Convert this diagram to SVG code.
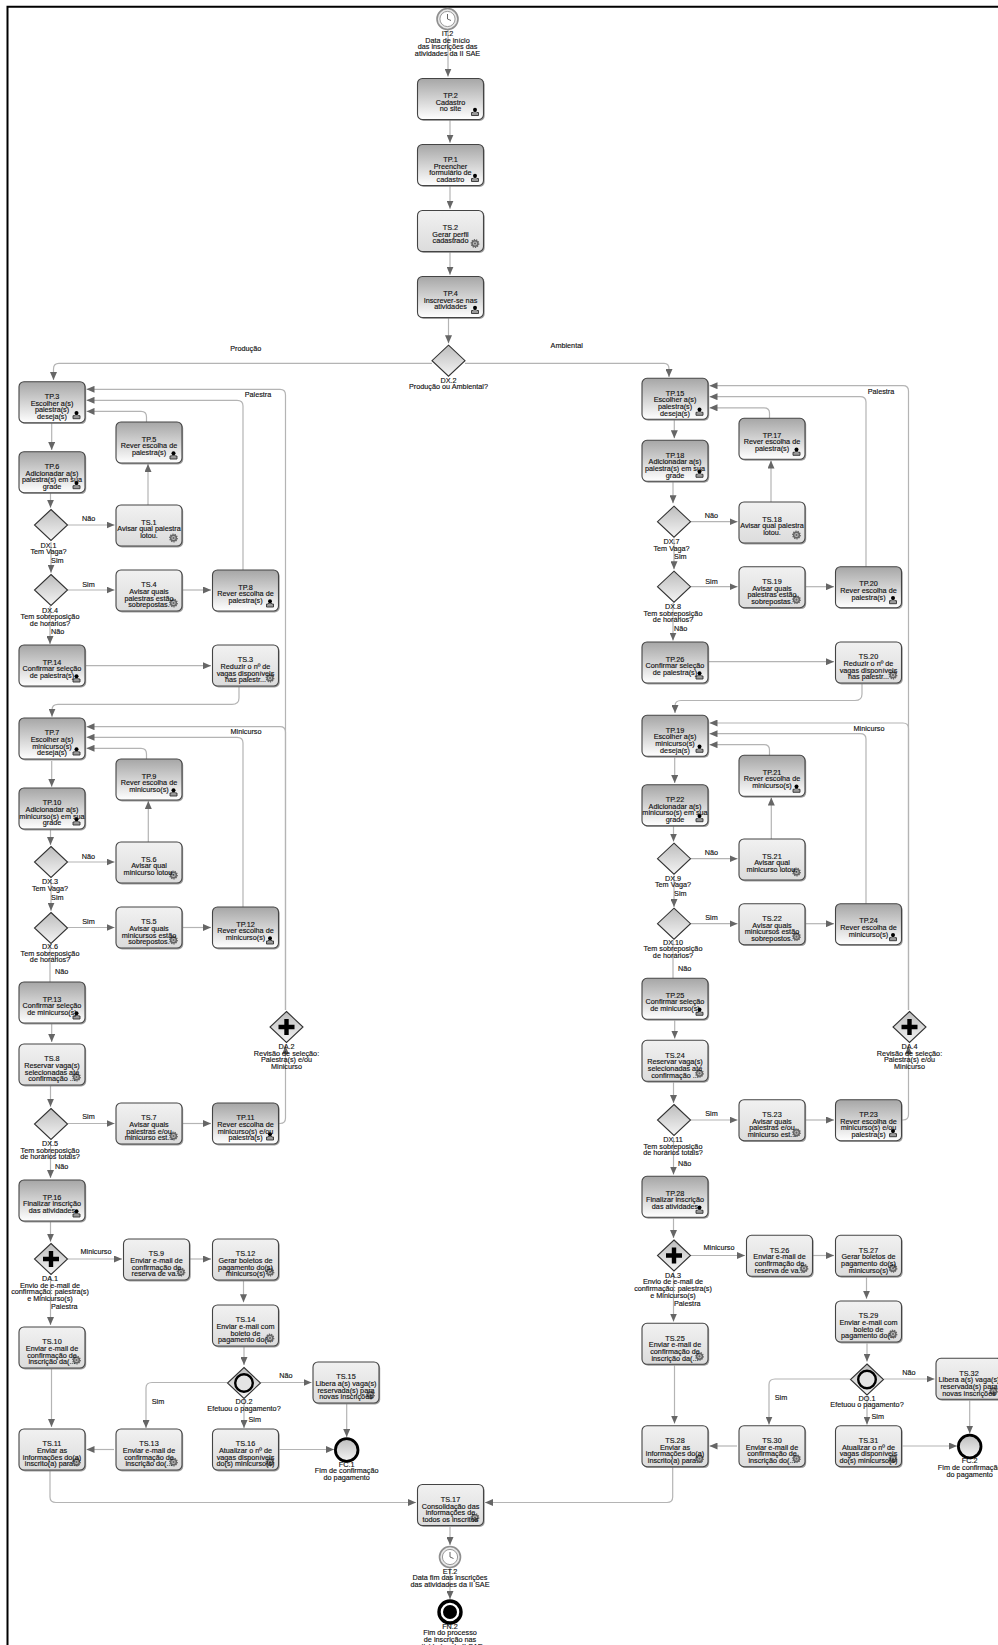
<svg xmlns="http://www.w3.org/2000/svg" xmlns:xlink="http://www.w3.org/1999/xlink" width="998" height="1645" viewBox="0 0 998 1645">
<style>
text{font-family:"Liberation Sans",Arial,sans-serif;font-size:7.25px;fill:#111;stroke:#111;stroke-width:.14;text-anchor:middle}
.c{fill:none;stroke:#b4b4b4;stroke-width:1.2}
.a{marker-end:url(#ar)}
.b{fill:url(#gP);stroke:#444;stroke-width:1.1}
.s{fill:url(#gS);stroke:#444;stroke-width:1.1}
.sh{fill:#777;opacity:.7}
</style>
<defs>
<linearGradient id="gP" x1="0" y1="0" x2="0" y2="1"><stop offset="0" stop-color="#a6a6a6"/><stop offset="1" stop-color="#fff"/></linearGradient>
<linearGradient id="gS" x1="0" y1="0" x2="0" y2="1"><stop offset="0" stop-color="#f1f1f1"/><stop offset="1" stop-color="#dcdcdc"/></linearGradient>
<linearGradient id="gG" x1="0" y1="0" x2="0" y2="1"><stop offset="0" stop-color="#bdbdbd"/><stop offset="1" stop-color="#f4f4f4"/></linearGradient>
<marker id="ar" markerUnits="userSpaceOnUse" markerWidth="8" markerHeight="7" refX="8" refY="3.5" orient="auto"><path d="M0 0L8 3.5L0 7z" fill="#666"/></marker>
<g id="ui"><path d="M-3.5 4V1H-2L-1 0H1L2 1H3.5V4z" fill="#999" stroke="#333" stroke-width=".9"/><circle cy="-1.8" r="2" fill="#000"/></g>
<g id="gi"><circle r="3.6" fill="#666" stroke="#666" stroke-width="1.6" stroke-dasharray="1.2 1"/><circle r="2.1" fill="#bbb"/><circle r="1.1" fill="#666"/></g>
<g id="P"><rect class="sh" x="1.2" y="1.4" width="66" height="41" rx="5"/><rect class="b" width="66" height="41" rx="5"/><use href="#ui" x="57.5" y="33"/></g>
<g id="S"><rect class="sh" x="1.2" y="1.4" width="66" height="41" rx="5"/><rect class="s" width="66" height="41" rx="5"/><use href="#gi" x="57.5" y="33"/></g>
<path id="gw" d="M0-15.5L16.5 0L0 15.5L-16.5 0z" fill="url(#gG)" stroke="#333" stroke-width="1.1"/>
<g id="ga"><use href="#gw"/><path d="M-8-2.2H-2.2V-8H2.2V-2.2H8V2.2H2.2V8H-2.2V2.2H-8z" fill="#000"/></g>
<g id="go"><use href="#gw"/><circle r="8.8" fill="#e4e4e4" stroke="#000" stroke-width="2.4"/></g>
<g id="ck"><circle r="10.5" fill="#e8e8e8" stroke="#8f8f8f" stroke-width="1.6"/><circle r="7.6" fill="#fff" stroke="#999" stroke-width="1"/><path d="M0-5V0L3.5 1.5" fill="none" stroke="#555" stroke-width=".9"/></g>
</defs>
<path d="M7.5 1645V6.8H998" fill="none" stroke="#000" stroke-width="2"/>
<g id="connectors">
<path class="c a" d="M448 30V76.5"/>
<path class="c a" d="M450 120V142.7"/>
<path class="c a" d="M450 186V208.7"/>
<path class="c a" d="M450 252V274.7"/>
<path class="c a" d="M448.5 318V343.3"/>
<path class="c a" d="M432 363.4H59Q53.5 363.4 53.5 369V380"/>
<path class="c a" d="M465 363.4H664Q669 363.4 669 369V377"/>
<path class="c a" d="M51.7 423V450"/>
<path class="c a" d="M50.5 493V507.7"/>
<path class="c a" d="M67.5 525H114.5"/>
<path class="c a" d="M148 505V464"/>
<path class="c a" d="M146.5 422V417Q146.5 411.4 141 411.4H86.5"/>
<path class="c a" d="M243 570V406Q243 400.3 237 400.3H86.5"/>
<path class="c a" d="M285.5 1010V395Q285.5 389.3 280 389.3H86.5"/>
<path class="c a" d="M51 542V572.7"/>
<path class="c a" d="M67.5 590H114.5"/>
<path class="c a" d="M183 590H211"/>
<path class="c a" d="M50 606V644"/>
<path class="c a" d="M86 665.7H211"/>
<path class="c a" d="M239 687V698Q239 704.4 232 704.4H58Q52 704.4 52 710V716.7"/>
<path class="c a" d="M51.7 761V786.7"/>
<path class="c a" d="M50.5 830V845"/>
<path class="c a" d="M67.5 862H114.5"/>
<path class="c a" d="M148.3 842V801"/>
<path class="c a" d="M146.5 759V754Q146.5 748.3 141 748.3H86.5"/>
<path class="c a" d="M243 907V743Q243 737.3 237 737.3H86.5"/>
<path class="c a" d="M285.5 1010V732Q285.5 726.7 280 726.7H86.5"/>
<path class="c a" d="M51 879V910.7"/>
<path class="c a" d="M67.5 927.5H114.5"/>
<path class="c a" d="M183 927.5H211"/>
<path class="c" d="M50 944V982"/>
<path class="c a" d="M51.7 1024V1042"/>
<path class="c a" d="M50.5 1086V1106.7"/>
<path class="c a" d="M67.5 1123.5H114.5"/>
<path class="c a" d="M183 1123.5H211"/>
<path class="c a" d="M279 1123.5H280Q285.5 1123.5 285.5 1118V1046"/>
<path class="c a" d="M50.5 1141V1178"/>
<path class="c a" d="M50.5 1222V1241.7"/>
<path class="c a" d="M68 1259H122"/>
<path class="c a" d="M190 1259H211"/>
<path class="c a" d="M243.5 1281V1302.3"/>
<path class="c a" d="M244 1347V1365"/>
<path class="c a" d="M261 1382.5H311.5"/>
<path class="c a" d="M346.7 1404V1437"/>
<path class="c a" d="M227 1382.5H152Q146 1382.5 146 1388V1428"/>
<path class="c a" d="M244 1400V1428"/>
<path class="c a" d="M279.5 1449.5H334"/>
<path class="c a" d="M114 1449.5H86.5"/>
<path class="c a" d="M50.5 1276V1325"/>
<path class="c a" d="M51.5 1369V1427"/>
<path class="c a" d="M50 1471V1497Q50 1502.5 56 1502.5H416"/>
<path class="c a" d="M450 1527V1545"/>
<path class="c a" d="M450 1568V1599"/>
<path class="c a" d="M672.7 1467V1497Q672.7 1502.5 667 1502.5H485"/>
<path class="c a" d="M674.3 420V438.3"/>
<path class="c a" d="M673 482V503.3"/>
<path class="c a" d="M690.5 521.7H737.5"/>
<path class="c a" d="M771 502V460.5"/>
<path class="c a" d="M769.5 418.3V413Q769.5 407.8 764 407.8H709.5"/>
<path class="c a" d="M866 566.7V402Q866 396.7 860 396.7H709.5"/>
<path class="c a" d="M908.5 1010V391Q908.5 385.7 903 385.7H709.5"/>
<path class="c a" d="M674 538.5V569.3"/>
<path class="c a" d="M690.5 586.7H737.5"/>
<path class="c a" d="M806 586.7H834"/>
<path class="c a" d="M673 603V640.5"/>
<path class="c a" d="M709 661.7H834"/>
<path class="c a" d="M862 684V694Q862 700.5 855 700.5H681Q675 700.5 675 706V713"/>
<path class="c a" d="M674.7 757.5V783"/>
<path class="c a" d="M673.5 826V841.5"/>
<path class="c a" d="M690.5 858.7H737.5"/>
<path class="c a" d="M771.3 839V797.5"/>
<path class="c a" d="M769.5 755.3V750Q769.5 744.7 764 744.7H709.5"/>
<path class="c a" d="M866 903.7V739Q866 733.7 860 733.7H709.5"/>
<path class="c a" d="M908.5 1010V728.5Q908.5 723 903 723H709.5"/>
<path class="c a" d="M674 875.5V907"/>
<path class="c a" d="M690.5 923.7H737.5"/>
<path class="c a" d="M806 923.7H834"/>
<path class="c" d="M673 940V978.3"/>
<path class="c a" d="M674.7 1020.5V1038.5"/>
<path class="c a" d="M673.5 1082.5V1103"/>
<path class="c a" d="M690.5 1120H737.5"/>
<path class="c a" d="M806 1120H834"/>
<path class="c a" d="M902 1120H903Q908.5 1120 908.5 1114.5V1046"/>
<path class="c a" d="M673.5 1137.5V1174.5"/>
<path class="c a" d="M673.5 1218.5V1238"/>
<path class="c a" d="M691 1255.5H745"/>
<path class="c a" d="M813 1255.5H834"/>
<path class="c a" d="M866.5 1277.5V1298.7"/>
<path class="c a" d="M867 1343.5V1361.5"/>
<path class="c a" d="M884 1379H934.5"/>
<path class="c a" d="M969.7 1400.5V1433.5"/>
<path class="c a" d="M850 1379H775Q769 1379 769 1384.5V1424.5"/>
<path class="c a" d="M867 1396.5V1424.5"/>
<path class="c a" d="M902.5 1446H957"/>
<path class="c a" d="M737 1446H709.5"/>
<path class="c a" d="M673.5 1272.5V1321.5"/>
<path class="c a" d="M674.5 1365.5V1423.5"/>
</g>
<g id="connector-labels">
<text x="245.7" y="351">Produção</text><text x="566.7" y="348">Ambiental</text>
<text x="258" y="397">Palestra</text><text x="88.7" y="521">Não</text><text x="57.3" y="562.5">Sim</text><text x="88.5" y="587">Sim</text><text x="57.6" y="634">Não</text>
<text x="246" y="734">Minicurso</text><text x="88.5" y="858.5">Não</text><text x="57.3" y="899.5">Sim</text><text x="88.5" y="923.5">Sim</text><text x="61.7" y="974">Não</text>
<text x="88.5" y="1119">Sim</text><text x="61.7" y="1169">Não</text><text x="96" y="1253.5">Minicurso</text><text x="64.3" y="1309">Palestra</text>
<text x="286" y="1378">Não</text><text x="158" y="1403.5">Sim</text><text x="254.7" y="1422">Sim</text>
<text x="881" y="393.5">Palestra</text><text x="711.5" y="517.5">Não</text><text x="680.3" y="559">Sim</text><text x="711.5" y="583.5">Sim</text><text x="680.6" y="630.5">Não</text>
<text x="869" y="731">Minicurso</text><text x="711.5" y="855">Não</text><text x="680.3" y="896">Sim</text><text x="711.5" y="920">Sim</text><text x="684.7" y="970.5">Não</text>
<text x="711.5" y="1115.5">Sim</text><text x="684.7" y="1165.5">Não</text><text x="719" y="1250">Minicurso</text><text x="687.3" y="1305.5">Palestra</text>
<text x="909" y="1374.5">Não</text><text x="781" y="1400">Sim</text><text x="877.7" y="1418.5">Sim</text>
</g>
<g id="IT2" transform="translate(447.5 19)"><use href="#ck"/><text><tspan x="0" y="17">IT.2</tspan><tspan x="0" y="23.6">Data de início</tspan><tspan x="0" y="30.3">das inscrições das</tspan><tspan x="0" y="37">atividades da II SAE</tspan></text></g>
<g id="TP2" transform="translate(417.5 78.5)"><use href="#P"/><text><tspan x="33" y="19.5">TP.2</tspan><tspan x="33" y="26.2">Cadastro</tspan><tspan x="33" y="32.9">no site</tspan></text></g>
<g id="TP1" transform="translate(417.5 144.5)"><use href="#P"/><text><tspan x="33" y="17.3">TP.1</tspan><tspan x="33" y="24">Preencher</tspan><tspan x="33" y="30.7">formulário de</tspan><tspan x="33" y="37.4">cadastro</tspan></text></g>
<g id="TS2" transform="translate(417.5 210.5)"><use href="#S"/><text><tspan x="33" y="19.5">TS.2</tspan><tspan x="33" y="26.2">Gerar perfil</tspan><tspan x="33" y="32.9">cadastrado</tspan></text></g>
<g id="TP4" transform="translate(417.5 276.5)"><use href="#P"/><text><tspan x="33" y="19.5">TP.4</tspan><tspan x="33" y="26.2">Inscrever-se nas</tspan><tspan x="33" y="32.9">atividades</tspan></text></g>
<g id="DX2" transform="translate(448.5 360.7)"><use href="#gw"/><text><tspan x="0" y="22">DX.2</tspan><tspan x="0" y="28.7">Produção ou Ambiental?</tspan></text></g>
<g id="TP3" transform="translate(19 381.7)"><use href="#P"/><text><tspan x="33" y="17.3">TP.3</tspan><tspan x="33" y="24">Escolher a(s)</tspan><tspan x="33" y="30.7">palestra(s)</tspan><tspan x="33" y="37.4">deseja(s)</tspan></text></g>
<g id="TP6" transform="translate(19 451.7)"><use href="#P"/><text><tspan x="33" y="17.3">TP.6</tspan><tspan x="33" y="24">Adicionadar a(s)</tspan><tspan x="33" y="30.7">palestra(s) em sua</tspan><tspan x="33" y="37.4">grade</tspan></text></g>
<g id="TP5" transform="translate(116 422)"><use href="#P"/><text><tspan x="33" y="19.5">TP.5</tspan><tspan x="33" y="26.2">Rever escolha de</tspan><tspan x="33" y="32.9">palestra(s)</tspan></text></g>
<g id="TS1" transform="translate(116 505)"><use href="#S"/><text><tspan x="33" y="19.5">TS.1</tspan><tspan x="33" y="26.2">Avisar qual palestra</tspan><tspan x="33" y="32.9">lotou.</tspan></text></g>
<g id="TS4" transform="translate(116 570)"><use href="#S"/><text><tspan x="33" y="17.3">TS.4</tspan><tspan x="33" y="24">Avisar quais</tspan><tspan x="33" y="30.7">palestras estão</tspan><tspan x="33" y="37.4">sobrepostas.</tspan></text></g>
<g id="TP8" transform="translate(212.5 570)"><use href="#P"/><text><tspan x="33" y="19.5">TP.8</tspan><tspan x="33" y="26.2">Rever escolha de</tspan><tspan x="33" y="32.9">palestra(s)</tspan></text></g>
<g id="TP14" transform="translate(19 645)"><use href="#P"/><text><tspan x="33" y="19.5">TP.14</tspan><tspan x="33" y="26.2">Confirmar seleção</tspan><tspan x="33" y="32.9">de palestra(s)</tspan></text></g>
<g id="TS3" transform="translate(212.5 645)"><use href="#S"/><text><tspan x="33" y="17.3">TS.3</tspan><tspan x="33" y="24">Reduzir o nº de</tspan><tspan x="33" y="30.7">vagas disponíveis</tspan><tspan x="33" y="37.4">nas palestr...</tspan></text></g>
<g id="DX1" transform="translate(51 525)"><use href="#gw"/><text><tspan x="-2.5" y="22.5">DX.1</tspan><tspan x="-2.5" y="29">Tem Vaga?</tspan></text></g>
<g id="DX4" transform="translate(51 590)"><use href="#gw"/><text><tspan x="-1" y="22.5">DX.4</tspan><tspan x="-1" y="29">Tem sobreposição</tspan><tspan x="-1" y="35.8">de horários?</tspan></text></g>
<g id="TP7" transform="translate(19 718)"><use href="#P"/><text><tspan x="33" y="17.3">TP.7</tspan><tspan x="33" y="24">Escolher a(s)</tspan><tspan x="33" y="30.7">minicurso(s)</tspan><tspan x="33" y="37.4">deseja(s)</tspan></text></g>
<g id="TP10" transform="translate(19 788)"><use href="#P"/><text><tspan x="33" y="17.3">TP.10</tspan><tspan x="33" y="24">Adicionadar a(s)</tspan><tspan x="33" y="30.7">minicurso(s) em sua</tspan><tspan x="33" y="37.4">grade</tspan></text></g>
<g id="TP9" transform="translate(116 759)"><use href="#P"/><text><tspan x="33" y="19.5">TP.9</tspan><tspan x="33" y="26.2">Rever escolha de</tspan><tspan x="33" y="32.9">minicurso(s)</tspan></text></g>
<g id="TS6" transform="translate(116 842)"><use href="#S"/><text><tspan x="33" y="19.5">TS.6</tspan><tspan x="33" y="26.2">Avisar qual</tspan><tspan x="33" y="32.9">minicurso lotou.</tspan></text></g>
<g id="TS5" transform="translate(116 907)"><use href="#S"/><text><tspan x="33" y="17.3">TS.5</tspan><tspan x="33" y="24">Avisar quais</tspan><tspan x="33" y="30.7">minicursos estão</tspan><tspan x="33" y="37.4">sobrepostos.</tspan></text></g>
<g id="TP12" transform="translate(212.5 907)"><use href="#P"/><text><tspan x="33" y="19.5">TP.12</tspan><tspan x="33" y="26.2">Rever escolha de</tspan><tspan x="33" y="32.9">minicurso(s)</tspan></text></g>
<g id="TP13" transform="translate(19 982)"><use href="#P"/><text><tspan x="33" y="19.5">TP.13</tspan><tspan x="33" y="26.2">Confirmar seleção</tspan><tspan x="33" y="32.9">de minicurso(s)</tspan></text></g>
<g id="TS8" transform="translate(19 1044)"><use href="#S"/><text><tspan x="33" y="17.3">TS.8</tspan><tspan x="33" y="24">Reservar vaga(s)</tspan><tspan x="33" y="30.7">selecionadas até</tspan><tspan x="33" y="37.4">confirmação ...</tspan></text></g>
<g id="TS7" transform="translate(116 1103)"><use href="#S"/><text><tspan x="33" y="17.3">TS.7</tspan><tspan x="33" y="24">Avisar quais</tspan><tspan x="33" y="30.7">palestras e/ou</tspan><tspan x="33" y="37.4">minicurso est...</tspan></text></g>
<g id="TP11" transform="translate(212.5 1103)"><use href="#P"/><text><tspan x="33" y="17.3">TP.11</tspan><tspan x="33" y="24">Rever escolha de</tspan><tspan x="33" y="30.7">minicurso(s) e/ou</tspan><tspan x="33" y="37.4">palestra(s)</tspan></text></g>
<g id="TP16" transform="translate(19 1180)"><use href="#P"/><text><tspan x="33" y="19.5">TP.16</tspan><tspan x="33" y="26.2">Finalizar inscrição</tspan><tspan x="33" y="32.9">das atividades</tspan></text></g>
<g id="TS9" transform="translate(123.5 1239)"><use href="#S"/><text><tspan x="33" y="17.3">TS.9</tspan><tspan x="33" y="24">Enviar e-mail de</tspan><tspan x="33" y="30.7">confirmação de</tspan><tspan x="33" y="37.4">reserva de va...</tspan></text></g>
<g id="TS12" transform="translate(212.5 1239)"><use href="#S"/><text><tspan x="33" y="17.3">TS.12</tspan><tspan x="33" y="24">Gerar boletos de</tspan><tspan x="33" y="30.7">pagamento do(s)</tspan><tspan x="33" y="37.4">minicurso(s)</tspan></text></g>
<g id="TS14" transform="translate(212.5 1305)"><use href="#S"/><text><tspan x="33" y="17.3">TS.14</tspan><tspan x="33" y="24">Enviar e-mail com</tspan><tspan x="33" y="30.7">boleto de</tspan><tspan x="33" y="37.4">pagamento do(...</tspan></text></g>
<g id="TS15" transform="translate(313 1362)"><use href="#S"/><text><tspan x="33" y="17.3">TS.15</tspan><tspan x="33" y="24">Libera a(s) vaga(s)</tspan><tspan x="33" y="30.7">reservada(s) para</tspan><tspan x="33" y="37.4">novas inscrições</tspan></text></g>
<g id="TS10" transform="translate(19 1327)"><use href="#S"/><text><tspan x="33" y="17.3">TS.10</tspan><tspan x="33" y="24">Enviar e-mail de</tspan><tspan x="33" y="30.7">confirmação de</tspan><tspan x="33" y="37.4">inscrição da(...</tspan></text></g>
<g id="TS11" transform="translate(19 1429)"><use href="#S"/><text><tspan x="33" y="17.3">TS.11</tspan><tspan x="33" y="24">Enviar as</tspan><tspan x="33" y="30.7">informações do(a)</tspan><tspan x="33" y="37.4">inscrito(a) para...</tspan></text></g>
<g id="TS13" transform="translate(116 1429)"><use href="#S"/><text><tspan x="33" y="17.3">TS.13</tspan><tspan x="33" y="24">Enviar e-mail de</tspan><tspan x="33" y="30.7">confirmação de</tspan><tspan x="33" y="37.4">inscrição do(...</tspan></text></g>
<g id="TS16" transform="translate(212.5 1429)"><use href="#S"/><text><tspan x="33" y="17.3">TS.16</tspan><tspan x="33" y="24">Atualizar o nº de</tspan><tspan x="33" y="30.7">vagas disponíveis</tspan><tspan x="33" y="37.4">do(s) minicurso(s)</tspan></text></g>
<g id="DX3" transform="translate(51 862)"><use href="#gw"/><text><tspan x="-1" y="22">DX.3</tspan><tspan x="-1" y="28.7">Tem Vaga?</tspan></text></g>
<g id="DX6" transform="translate(51 928)"><use href="#gw"/><text><tspan x="-1" y="21">DX.6</tspan><tspan x="-1" y="27.7">Tem sobreposição</tspan><tspan x="-1" y="34.4">de horários?</tspan></text></g>
<g id="DX5" transform="translate(51 1124)"><use href="#gw"/><text><tspan x="-1" y="22">DX.5</tspan><tspan x="-1" y="28.7">Tem sobreposição</tspan><tspan x="-1" y="35.4">de horários totais?</tspan></text></g>
<g id="DA1" transform="translate(51 1259)"><use href="#ga"/><text><tspan x="-1" y="22">DA.1</tspan><tspan x="-1" y="28.7">Envio de e-mail de</tspan><tspan x="-1" y="35.4">confirmação: palestra(s)</tspan><tspan x="-1" y="42">e Minicurso(s)</tspan></text></g>
<g id="DO2" transform="translate(244 1383)"><use href="#go"/><text><tspan x="0" y="21">DO.2</tspan><tspan x="0" y="27.7">Efetuou o pagamento?</tspan></text></g>
<g id="DA2" transform="translate(286.5 1027)"><use href="#ga"/><text><tspan x="0" y="22">DA.2</tspan><tspan x="0" y="28.7">Revisão de seleção:</tspan><tspan x="0" y="35.4">Palestra(s) e/ou</tspan><tspan x="0" y="42">Minicurso</tspan></text></g>
<g id="FC1" transform="translate(346.7 1450)"><circle r="11.3" fill="url(#gG)" stroke="#000" stroke-width="2.8"/><text><tspan x="0" y="16.5">FC.1</tspan><tspan x="0" y="23.2">Fim de confirmação</tspan><tspan x="0" y="30">do pagamento</tspan></text></g>
<g id="TS17" transform="translate(417.5 1484.5)"><use href="#S"/><text><tspan x="33" y="17.3">TS.17</tspan><tspan x="33" y="24">Consolidação das</tspan><tspan x="33" y="30.7">informações de</tspan><tspan x="33" y="37.4">todos os inscritos</tspan></text></g>
<g id="ET2" transform="translate(450 1557)"><use href="#ck"/><text><tspan x="0" y="16.5">ET.2</tspan><tspan x="0" y="23.2">Data fim das inscrições</tspan><tspan x="0" y="30">das atividades da II SAE</tspan></text></g>
<g id="FN2" transform="translate(450 1612)"><circle r="11" fill="#fff" stroke="#000" stroke-width="3.4"/><circle r="7" fill="#000"/><text><tspan x="0" y="16.5">FN.2</tspan><tspan x="0" y="23.2">Fim do processo</tspan><tspan x="0" y="30">de inscrição nas</tspan><tspan x="0" y="36.5">atividades da II SAE</tspan></text></g>
<g id="TP15" transform="translate(642 378.3)"><use href="#P"/><text><tspan x="33" y="17.3">TP.15</tspan><tspan x="33" y="24">Escolher a(s)</tspan><tspan x="33" y="30.7">palestra(s)</tspan><tspan x="33" y="37.4">deseja(s)</tspan></text></g>
<g id="TP18" transform="translate(642 440.3)"><use href="#P"/><text><tspan x="33" y="17.3">TP.18</tspan><tspan x="33" y="24">Adicionadar a(s)</tspan><tspan x="33" y="30.7">palestra(s) em sua</tspan><tspan x="33" y="37.4">grade</tspan></text></g>
<g id="TP17" transform="translate(739 418.3)"><use href="#P"/><text><tspan x="33" y="19.5">TP.17</tspan><tspan x="33" y="26.2">Rever escolha de</tspan><tspan x="33" y="32.9">palestra(s)</tspan></text></g>
<g id="TS18" transform="translate(739 502)"><use href="#S"/><text><tspan x="33" y="19.5">TS.18</tspan><tspan x="33" y="26.2">Avisar qual palestra</tspan><tspan x="33" y="32.9">lotou.</tspan></text></g>
<g id="TS19" transform="translate(739 566.7)"><use href="#S"/><text><tspan x="33" y="17.3">TS.19</tspan><tspan x="33" y="24">Avisar quais</tspan><tspan x="33" y="30.7">palestras estão</tspan><tspan x="33" y="37.4">sobrepostas.</tspan></text></g>
<g id="TP20" transform="translate(835.5 566.7)"><use href="#P"/><text><tspan x="33" y="19.5">TP.20</tspan><tspan x="33" y="26.2">Rever escolha de</tspan><tspan x="33" y="32.9">palestra(s)</tspan></text></g>
<g id="TP26" transform="translate(642 642)"><use href="#P"/><text><tspan x="33" y="19.5">TP.26</tspan><tspan x="33" y="26.2">Confirmar seleção</tspan><tspan x="33" y="32.9">de palestra(s)</tspan></text></g>
<g id="TS20" transform="translate(835.5 642)"><use href="#S"/><text><tspan x="33" y="17.3">TS.20</tspan><tspan x="33" y="24">Reduzir o nº de</tspan><tspan x="33" y="30.7">vagas disponíveis</tspan><tspan x="33" y="37.4">nas palestr...</tspan></text></g>
<g id="DX7" transform="translate(674 521.7)"><use href="#gw"/><text><tspan x="-2.5" y="22.5">DX.7</tspan><tspan x="-2.5" y="29">Tem Vaga?</tspan></text></g>
<g id="DX8" transform="translate(674 586.7)"><use href="#gw"/><text><tspan x="-1" y="22.5">DX.8</tspan><tspan x="-1" y="29">Tem sobreposição</tspan><tspan x="-1" y="35.8">de horários?</tspan></text></g>
<g id="TP19" transform="translate(642 715.3)"><use href="#P"/><text><tspan x="33" y="17.3">TP.19</tspan><tspan x="33" y="24">Escolher a(s)</tspan><tspan x="33" y="30.7">minicurso(s)</tspan><tspan x="33" y="37.4">deseja(s)</tspan></text></g>
<g id="TP22" transform="translate(642 784.7)"><use href="#P"/><text><tspan x="33" y="17.3">TP.22</tspan><tspan x="33" y="24">Adicionadar a(s)</tspan><tspan x="33" y="30.7">minicurso(s) em sua</tspan><tspan x="33" y="37.4">grade</tspan></text></g>
<g id="TP21" transform="translate(739 755.3)"><use href="#P"/><text><tspan x="33" y="19.5">TP.21</tspan><tspan x="33" y="26.2">Rever escolha de</tspan><tspan x="33" y="32.9">minicurso(s)</tspan></text></g>
<g id="TS21" transform="translate(739 839)"><use href="#S"/><text><tspan x="33" y="19.5">TS.21</tspan><tspan x="33" y="26.2">Avisar qual</tspan><tspan x="33" y="32.9">minicurso lotou.</tspan></text></g>
<g id="TS22" transform="translate(739 903.7)"><use href="#S"/><text><tspan x="33" y="17.3">TS.22</tspan><tspan x="33" y="24">Avisar quais</tspan><tspan x="33" y="30.7">minicursos estão</tspan><tspan x="33" y="37.4">sobrepostos.</tspan></text></g>
<g id="TP24" transform="translate(835.5 903.7)"><use href="#P"/><text><tspan x="33" y="19.5">TP.24</tspan><tspan x="33" y="26.2">Rever escolha de</tspan><tspan x="33" y="32.9">minicurso(s)</tspan></text></g>
<g id="TP25" transform="translate(642 978.3)"><use href="#P"/><text><tspan x="33" y="19.5">TP.25</tspan><tspan x="33" y="26.2">Confirmar seleção</tspan><tspan x="33" y="32.9">de minicurso(s)</tspan></text></g>
<g id="TS24" transform="translate(642 1040.3)"><use href="#S"/><text><tspan x="33" y="17.3">TS.24</tspan><tspan x="33" y="24">Reservar vaga(s)</tspan><tspan x="33" y="30.7">selecionadas até</tspan><tspan x="33" y="37.4">confirmação ...</tspan></text></g>
<g id="TS23" transform="translate(739 1099.7)"><use href="#S"/><text><tspan x="33" y="17.3">TS.23</tspan><tspan x="33" y="24">Avisar quais</tspan><tspan x="33" y="30.7">palestras e/ou</tspan><tspan x="33" y="37.4">minicurso est...</tspan></text></g>
<g id="TP23" transform="translate(835.5 1099.7)"><use href="#P"/><text><tspan x="33" y="17.3">TP.23</tspan><tspan x="33" y="24">Rever escolha de</tspan><tspan x="33" y="30.7">minicurso(s) e/ou</tspan><tspan x="33" y="37.4">palestra(s)</tspan></text></g>
<g id="TP28" transform="translate(642 1176.3)"><use href="#P"/><text><tspan x="33" y="19.5">TP.28</tspan><tspan x="33" y="26.2">Finalizar inscrição</tspan><tspan x="33" y="32.9">das atividades</tspan></text></g>
<g id="TS26" transform="translate(746.5 1235.3)"><use href="#S"/><text><tspan x="33" y="17.3">TS.26</tspan><tspan x="33" y="24">Enviar e-mail de</tspan><tspan x="33" y="30.7">confirmação de</tspan><tspan x="33" y="37.4">reserva de va...</tspan></text></g>
<g id="TS27" transform="translate(835.5 1235.3)"><use href="#S"/><text><tspan x="33" y="17.3">TS.27</tspan><tspan x="33" y="24">Gerar boletos de</tspan><tspan x="33" y="30.7">pagamento do(s)</tspan><tspan x="33" y="37.4">minicurso(s)</tspan></text></g>
<g id="TS29" transform="translate(835.5 1301)"><use href="#S"/><text><tspan x="33" y="17.3">TS.29</tspan><tspan x="33" y="24">Enviar e-mail com</tspan><tspan x="33" y="30.7">boleto de</tspan><tspan x="33" y="37.4">pagamento do(...</tspan></text></g>
<g id="TS32" transform="translate(936 1358.3)"><use href="#S"/><text><tspan x="33" y="17.3">TS.32</tspan><tspan x="33" y="24">Libera a(s) vaga(s)</tspan><tspan x="33" y="30.7">reservada(s) para</tspan><tspan x="33" y="37.4">novas inscrições</tspan></text></g>
<g id="TS25" transform="translate(642 1323.3)"><use href="#S"/><text><tspan x="33" y="17.3">TS.25</tspan><tspan x="33" y="24">Enviar e-mail de</tspan><tspan x="33" y="30.7">confirmação de</tspan><tspan x="33" y="37.4">inscrição da(...</tspan></text></g>
<g id="TS28" transform="translate(642 1425.7)"><use href="#S"/><text><tspan x="33" y="17.3">TS.28</tspan><tspan x="33" y="24">Enviar as</tspan><tspan x="33" y="30.7">informações do(a)</tspan><tspan x="33" y="37.4">inscrito(a) para...</tspan></text></g>
<g id="TS30" transform="translate(739 1425.7)"><use href="#S"/><text><tspan x="33" y="17.3">TS.30</tspan><tspan x="33" y="24">Enviar e-mail de</tspan><tspan x="33" y="30.7">confirmação de</tspan><tspan x="33" y="37.4">inscrição do(...</tspan></text></g>
<g id="TS31" transform="translate(835.5 1425.7)"><use href="#S"/><text><tspan x="33" y="17.3">TS.31</tspan><tspan x="33" y="24">Atualizar o nº de</tspan><tspan x="33" y="30.7">vagas disponíveis</tspan><tspan x="33" y="37.4">do(s) minicurso(s)</tspan></text></g>
<g id="DX9" transform="translate(674 858.7)"><use href="#gw"/><text><tspan x="-1" y="22">DX.9</tspan><tspan x="-1" y="28.7">Tem Vaga?</tspan></text></g>
<g id="DX10" transform="translate(674 923.7)"><use href="#gw"/><text><tspan x="-1" y="21">DX.10</tspan><tspan x="-1" y="27.7">Tem sobreposição</tspan><tspan x="-1" y="34.4">de horários?</tspan></text></g>
<g id="DX11" transform="translate(674 1120)"><use href="#gw"/><text><tspan x="-1" y="22">DX.11</tspan><tspan x="-1" y="28.7">Tem sobreposição</tspan><tspan x="-1" y="35.4">de horários totais?</tspan></text></g>
<g id="DA3" transform="translate(674 1255.5)"><use href="#ga"/><text><tspan x="-1" y="22">DA.3</tspan><tspan x="-1" y="28.7">Envio de e-mail de</tspan><tspan x="-1" y="35.4">confirmação: palestra(s)</tspan><tspan x="-1" y="42">e Minicurso(s)</tspan></text></g>
<g id="DO1" transform="translate(867 1379.5)"><use href="#go"/><text><tspan x="0" y="21">DO.1</tspan><tspan x="0" y="27.7">Efetuou o pagamento?</tspan></text></g>
<g id="DA4" transform="translate(909.5 1027)"><use href="#ga"/><text><tspan x="0" y="22">DA.4</tspan><tspan x="0" y="28.7">Revisão de seleção:</tspan><tspan x="0" y="35.4">Palestra(s) e/ou</tspan><tspan x="0" y="42">Minicurso</tspan></text></g>
<g id="FC2" transform="translate(969.7 1446.5)"><circle r="11.3" fill="url(#gG)" stroke="#000" stroke-width="2.8"/><text><tspan x="0" y="16.5">FC.2</tspan><tspan x="0" y="23.2">Fim de confirmação</tspan><tspan x="0" y="30">do pagamento</tspan></text></g>
</svg>
